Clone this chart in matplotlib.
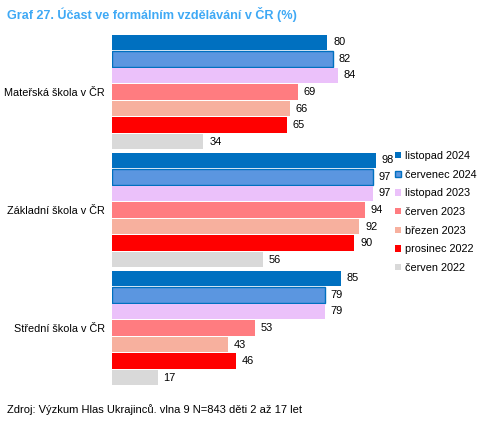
import matplotlib.pyplot as plt
import numpy as np

plt.rcParams['font.family'] = ['Liberation Sans', 'DejaVu Sans']

categories = ['Mateřská škola v ČR', 'Základní škola v ČR', 'Střední škola v ČR']
series = ['listopad 2024', 'červenec 2024', 'listopad 2023', 'červen 2023',
          'březen 2023', 'prosinec 2022', 'červen 2022']
values = [
    [80, 98, 85],
    [82, 97, 79],
    [84, 97, 79],
    [69, 94, 53],
    [66, 92, 43],
    [65, 90, 46],
    [34, 56, 17],
]
colors = ['#0070C0', '#5B96E0', '#EBC1FA', '#FF7C80', '#F7B09E', '#FF0000', '#D9D9D9']
edges = [None, '#0070C0', None, None, None, None, None]

fig = plt.figure(figsize=(4.84, 4.26), dpi=100)
ax = fig.add_axes([112/484, 1-387/426, 269/484, (387-33)/426])

y = np.arange(len(categories))
h = 0.14
for i, (name, vals) in enumerate(zip(series, values)):
    pos = y - 0.5 + h*(i+0.5) + 0.01
    ax.barh(pos, vals, height=h*0.92, color=colors[i],
            edgecolor=edges[i] if edges[i] else 'none',
            linewidth=1.0 if edges[i] else 0, label=name)
    for p, v in zip(pos, vals):
        ax.text(v + 2.2, p, str(v), va='center', ha='left', fontsize=7.9, color='#000000')

ax.set_xlim(0, 100)
ax.set_ylim(2.5, -0.5)
ax.set_yticks(y)
ax.set_yticklabels(categories, fontsize=7.8)
ax.tick_params(axis='y', length=0, pad=5)
ax.set_xticks([])
for s in ax.spines.values():
    s.set_visible(False)

leg = ax.legend(loc='upper left', bbox_to_anchor=((395-112)/269, 1-(151-33)/354),
                frameon=False, fontsize=7.8, handlelength=0.55, handleheight=0.55,
                handletextpad=0.35, labelspacing=0.8, borderaxespad=0, borderpad=0)

fig.text(7/484, 1-15/426, 'Graf 27. Účast ve formálním vzdělávání v ČR (%)',
         fontsize=9.1, fontweight='bold', color='#3FA9F5', va='center', ha='left')
fig.text(7/484, 1-410/426, 'Zdroj: Výzkum Hlas Ukrajinců. vlna 9 N=843 děti 2 až 17 let',
         fontsize=8.0, va='center', ha='left')

fig.savefig('out.png', dpi=100)
